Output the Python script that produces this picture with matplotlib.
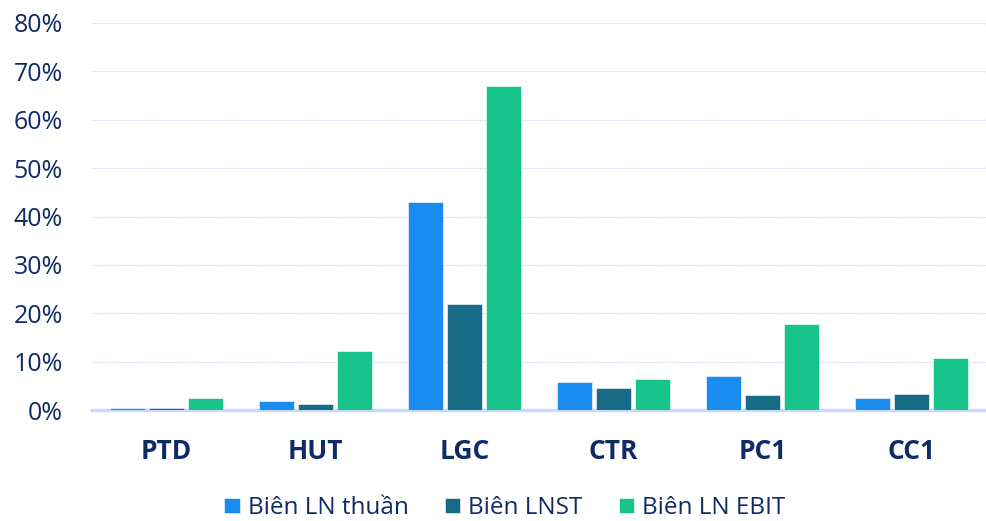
import matplotlib
matplotlib.use('Agg')
import matplotlib.pyplot as plt
import numpy as np
from matplotlib.ticker import PercentFormatter

# Data (margins, %)
categories = ['PTD', 'HUT', 'LGC', 'CTR', 'PC1', 'CC1']
series_names = ['Biên LN thuần', 'Biên LNST', 'Biên LN EBIT']
bien_ln_thuan = [0.4, 1.9, 42.9, 5.7, 7.0, 2.5]
bien_lnst = [0.4, 1.2, 22.0, 4.5, 3.2, 3.3]
bien_ln_ebit = [2.5, 12.1, 67.0, 6.4, 17.8, 10.7]

colors = ['#1a8cf0', '#176b87', '#17c48c']
text_color = '#0f2a66'

plt.rcParams['font.family'] = ['Open Sans', 'DejaVu Sans']

fig = plt.figure(figsize=(9.86, 5.21), dpi=100)
ax = fig.add_axes([92 / 986, 1 - 410 / 521, 894 / 986, 387 / 521])

x = np.arange(len(categories))
width = 0.237
step = 0.262
for i, (vals, name) in enumerate(zip([bien_ln_thuan, bien_lnst, bien_ln_ebit], series_names)):
    ax.bar(x + (i - 1) * step, vals, width, color=colors[i], label=name,
           edgecolor='white', linewidth=0.4, zorder=3)

ax.set_xlim(-0.5, len(categories) - 0.5)
ax.set_ylim(0, 80)
ax.set_yticks(np.arange(0, 81, 10))
ax.yaxis.set_major_formatter(PercentFormatter(decimals=0))
ax.set_xticks(x)
ax.set_xticklabels(categories, fontsize=19, fontweight='bold', color=text_color)
ax.tick_params(axis='y', labelsize=18, colors=text_color, length=0, pad=21)
ax.tick_params(axis='x', length=0, pad=20)

ax.grid(axis='y', color='#c5d6f5', linestyle=(0, (1, 1)), linewidth=0.9, zorder=0)
for side in ['top', 'right', 'left']:
    ax.spines[side].set_visible(False)
ax.spines['bottom'].set_color('#c9d9f7')
ax.spines['bottom'].set_linewidth(2.5)
ax.spines['bottom'].set_zorder(2)

leg = fig.legend(loc='center', bbox_to_anchor=(0.512, 1 - 508 / 521), ncol=3, frameon=False,
                 fontsize=17.5, handlelength=0.62, handleheight=0.62, handletextpad=0.33,
                 columnspacing=1.5)
for t in leg.get_texts():
    t.set_color(text_color)

fig.savefig('out.png', dpi=100)
